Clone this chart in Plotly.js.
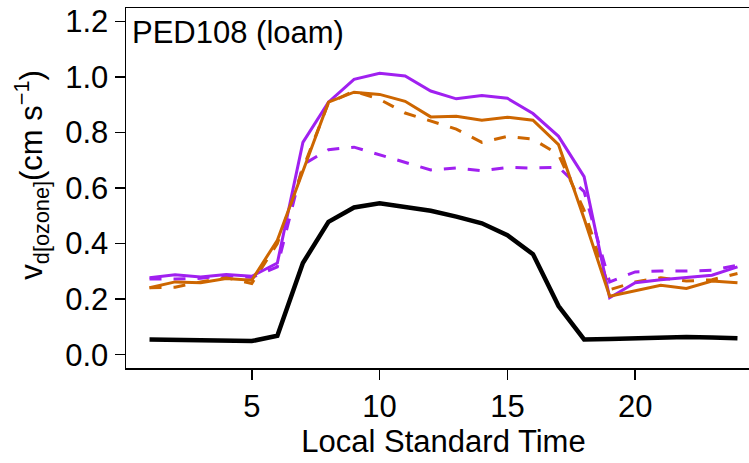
<!DOCTYPE html>
<html>
<head>
<meta charset="utf-8">
<script src="https://cdn.plot.ly/plotly-3.0.1.min.js"></script>
<style>
html,body{margin:0;padding:0;overflow:hidden;background:#fff;width:749px;height:463px;}
#chart{width:780px;height:463px;}
</style>
</head>
<body>
<div id="chart"></div>
<script>
const hours = [1,2,3,4,5,6,7,8,9,10,11,12,13,14,15,16,17,18,19,20,21,22,23,24];
const blackSolid = [0.055,0.053,0.051,0.050,0.049,0.068,0.33,0.478,0.53,0.545,0.532,0.518,0.497,0.473,0.43,0.362,0.175,0.055,0.056,0.058,0.063,0.064,0.062,0.059];
const purpleSolid = [0.277,0.288,0.280,0.289,0.282,0.33,0.764,0.909,0.991,1.013,1.003,0.949,0.921,0.933,0.923,0.868,0.786,0.641,0.205,0.259,0.270,0.277,0.286,0.316];
const orangeSolid = [0.241,0.262,0.259,0.274,0.268,0.412,0.66,0.909,0.945,0.937,0.912,0.856,0.858,0.844,0.855,0.844,0.756,0.49,0.210,0.229,0.250,0.238,0.265,0.259];
const purpleDashed = [0.272,0.272,0.275,0.285,0.278,0.316,0.684,0.738,0.747,0.72,0.692,0.665,0.672,0.662,0.674,0.672,0.675,0.587,0.262,0.298,0.301,0.301,0.304,0.322];
const orangeDashed = [0.241,0.243,0.262,0.277,0.256,0.40,0.67,0.906,0.949,0.919,0.870,0.840,0.812,0.764,0.786,0.776,0.72,0.52,0.234,0.262,0.277,0.265,0.270,0.292];
const xTicks = [5,10,15,20];
const yTicks = [0,0.2,0.4,0.6,0.8,1.0,1.2];
const yTickText = ["0.0","0.2","0.4","0.6","0.8","1.0","1.2"];

const PURPLE = '#A020F0', ORANGE = '#CD6600';
const dashPat = '12px,12px';
const traces = [
  {x: hours, y: purpleDashed, mode:'lines', line:{color:PURPLE, width:3, dash:dashPat}},
  {x: hours, y: orangeDashed, mode:'lines', line:{color:ORANGE, width:3, dash:dashPat}},
  {x: hours, y: purpleSolid, mode:'lines', line:{color:PURPLE, width:3}},
  {x: hours, y: orangeSolid, mode:'lines', line:{color:ORANGE, width:3}},
  {x: hours, y: blackSolid, mode:'lines', line:{color:'#000', width:4.5}}
];
const FONT = 'Liberation Sans, Arial, Helvetica, sans-serif';
const FS = 31;
const layout = {
  width: 780, height: 463,
  margin: {l:126, r:19, t:8, b:95},
  showlegend: false,
  paper_bgcolor:'#fff', plot_bgcolor:'#fff',
  font: {family: FONT, size: FS, color:'#000'},
  xaxis: {
    range: [0.08, 24.92], tickvals: xTicks, ticktext: xTicks.map(String),
    ticks:'outside', ticklen:10, tickwidth:1.5, tickcolor:'#000',
    showline:true, mirror:true, linecolor:'#000', linewidth:1.5,
    showgrid:false, zeroline:false,
    tickfont:{family:FONT, size:FS},
    title:{text:'Local Standard Time', font:{family:FONT, size:FS}, standoff:6}
  },
  yaxis: {
    range: [-0.048, 1.248], tickvals: yTicks, ticktext: yTickText,
    ticks:'outside', ticklen:10, tickwidth:1.5, tickcolor:'#000',
    showline:true, mirror:true, linecolor:'#000', linewidth:1.5,
    showgrid:false, zeroline:false,
    tickfont:{family:FONT, size:FS}
  },
  annotations: [
    {text:'PED108 (loam)', xref:'paper', yref:'paper', x:0, y:1, xanchor:'left', yanchor:'top',
     xshift:4, yshift:-5, showarrow:false, font:{family:FONT, size:FS, color:'#000'}},
    {text:'v<sub>d[ozone]</sub>(cm s<sup>\u22121</sup>)', xref:'paper', yref:'paper', x:0, y:0.537,
     xanchor:'center', yanchor:'middle', xshift:-94, textangle:-90, showarrow:false,
     font:{family:FONT, size:FS, color:'#000'}}
  ]
};
Plotly.newPlot('chart', traces, layout, {displayModeBar:false, staticPlot:true});
</script>
</body>
</html>
